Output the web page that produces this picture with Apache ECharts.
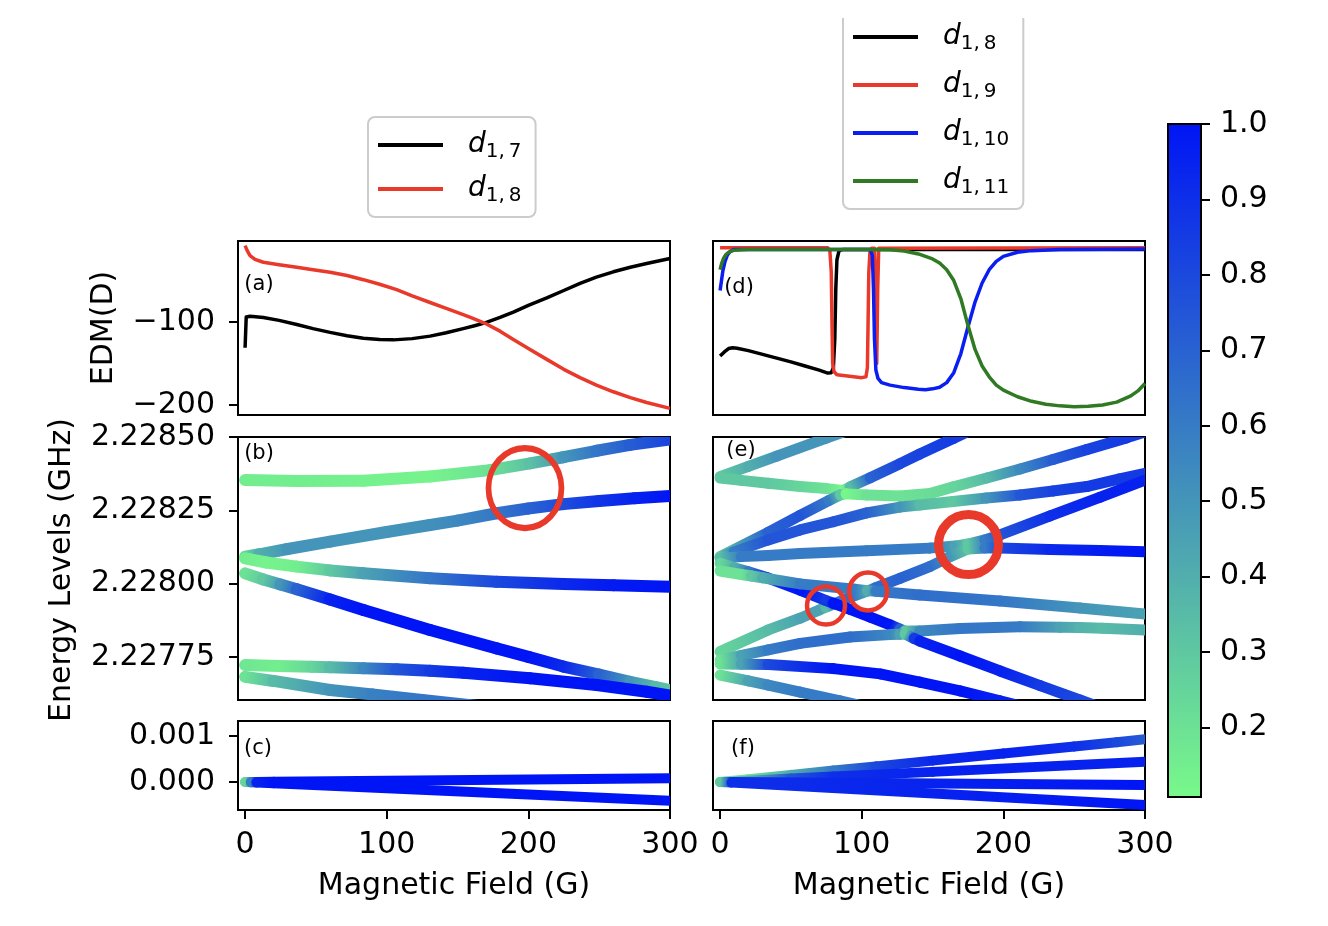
<!DOCTYPE html>
<html>
<head>
<meta charset="utf-8">
<script src="https://cdn.jsdelivr.net/npm/echarts@6/dist/echarts.min.js"></script>
<style>
  html, body { margin: 0; background: #fff; }
  #chart { width: 1328px; height: 926px; }
</style>
</head>
<body>
<div id="chart"></div>
<script>
// axis extents and tick values
const fieldRange = [-5, 300]
const edmRange = [-212, -2.4]
const levelRange = [2.227603, 2.2285]
const splitRange = [-0.000609, 0.001326]
const cbarRange = [0.108, 1.0]
const fieldTicks = [0, 100, 200, 300]
const edmTicks = [-200, -100]
const levelTicks = [2.22775, 2.228, 2.22825, 2.2285]
const splitTicks = [0, 0.001]
const cbarTicks = [0.2, 0.3, 0.4, 0.5, 0.6, 0.7, 0.8, 0.9, 1.0]

// (a) EDM (D) vs field (G)
const a_d17 = [[0, -131], [0.8, -94], [3.5, -93], [12.9, -94.5], [24, -98], [36.5, -103], [48, -108], [60, -112.5], [72, -116.5], [83.5, -119.5], [95, -121], [104.7, -121.5], [118, -120], [130.6, -117], [142, -113], [154, -108], [162, -104.5], [169.4, -101], [180, -94.5], [189.4, -88], [200, -80], [213, -71], [225, -62], [236.5, -53.5], [248, -46], [260, -39.5], [272, -34], [283.5, -29.5], [300, -23.5]]
const a_d18 = [[0, -8], [1.5, -14], [3.5, -20], [7, -24.5], [12.9, -28], [24, -31], [36.5, -34], [48, -37], [60, -40], [72, -44], [83.5, -49], [95, -54.5], [107, -61], [118, -68.5], [130.6, -76.5], [142, -83.5], [154, -91], [160, -95], [169.4, -101.5], [180, -111], [189.4, -121], [200, -132], [213, -145], [225, -157], [236.5, -167], [248, -176], [260, -184], [272, -191], [283.5, -197], [300, -204]]

// (d) EDM (D) vs field (G)
const d_d18 = [[0, -141], [3, -136], [6, -132], [9, -131], [12, -131.5], [20, -134.5], [30, -139], [40, -143.5], [50, -148], [60, -153], [70, -158], [76, -161.5], [78.5, -161], [80, -155], [81, -120], [81.7, -60], [82.5, -25], [84, -14], [87, -12.5], [300, -12.5]]
const d_d19 = [[0, -10.5], [76, -10.5], [77.5, -14], [78.5, -40], [79, -100], [79.5, -150], [80.5, -160], [82.5, -163.5], [90, -165], [100, -167], [103, -166], [104, -155], [104.5, -100], [105, -40], [105.8, -16], [107, -11], [109, -11], [110, -60], [110.6, -150], [111.3, -60], [112, -11], [300, -10.5]]
const d_d110 = [[0, -62], [1, -50], [2, -38], [3.5, -27], [5, -20], [7, -15], [10, -12.5], [106, -12.5], [107.5, -20], [108.3, -60], [109, -120], [110, -158], [111.5, -168], [114, -173], [120, -176], [130, -179], [140, -181], [145, -181.5], [150, -180.5], [155, -178.5], [160, -173], [165, -161], [170, -138], [175, -106], [180, -76], [185, -53], [190, -37], [195, -27], [200, -21], [210, -16], [220, -14], [240, -12.5], [300, -12]]
const d_d111 = [[0, -37], [1, -30], [2.5, -23], [4, -19], [6, -16], [10, -13.5], [20, -12.5], [100, -12.5], [120, -13], [130, -14.5], [140, -18], [150, -24], [155, -29], [160, -37], [165, -50], [170, -72], [175, -104], [180, -133], [185, -153], [190, -166], [195, -176], [200, -182], [210, -190], [220, -195.5], [230, -199], [240, -201], [250, -202], [260, -201.5], [270, -200], [280, -196.5], [290, -189], [295, -183], [300, -174]]

// (b) energy levels: [field G, energy GHz, colour value]
const b1 = [[0, 2.228353, 0.15], [36.5, 2.22835, 0.15], [83.5, 2.228351, 0.14], [130.6, 2.228365, 0.13], [172.9, 2.228387, 0.2], [201.2, 2.22841, 0.33], [224.7, 2.228431, 0.5], [248.2, 2.228453, 0.62], [271.8, 2.228473, 0.72], [300, 2.228492, 0.82]]
const b2 = [[0, 2.228092, 0.25], [10, 2.2281, 0.4], [30, 2.228118, 0.5], [60, 2.228143, 0.5], [100, 2.228176, 0.5], [130.6, 2.2282, 0.52], [150, 2.228215, 0.55], [177.6, 2.22824, 0.62], [200, 2.228256, 0.7], [224.7, 2.228271, 0.78], [250, 2.228282, 0.88], [275, 2.228291, 0.95], [300, 2.228299, 1.0]]
const b3 = [[0, 2.228086, 0.15], [15, 2.228072, 0.13], [36.5, 2.228058, 0.15], [60, 2.228045, 0.3], [83.5, 2.228035, 0.45], [130.6, 2.228018, 0.62], [177.6, 2.228006, 0.8], [224.7, 2.227999, 0.92], [260, 2.227994, 0.98], [300, 2.227989, 1.0]]
const b4 = [[0, 2.228035, 0.2], [12.9, 2.228014, 0.3], [25, 2.227997, 0.5], [36.5, 2.227981, 0.7], [60, 2.227946, 0.95], [83.5, 2.22791, 1.0], [130.6, 2.227842, 1.0], [177.6, 2.227779, 1.0], [200, 2.22775, 1.0], [224.7, 2.227717, 0.92], [250, 2.22769, 0.7], [271.8, 2.227665, 0.5], [290, 2.227647, 0.35], [300, 2.227637, 0.32]]
const b5 = [[0, 2.227722, 0.18], [23.5, 2.227719, 0.15], [47, 2.227716, 0.25], [60, 2.227715, 0.35], [83.5, 2.227711, 0.55], [107, 2.227708, 0.75], [130.6, 2.227703, 0.85], [154, 2.227696, 0.95], [201.2, 2.227677, 1.0], [248.2, 2.227654, 1.0], [283.5, 2.227631, 1.0], [300, 2.227618, 1.0]]
const b6 = [[0, 2.227682, 0.2], [20, 2.227668, 0.35], [60, 2.227637, 0.5], [90, 2.227622, 0.58], [125, 2.227603, 0.62], [200, 2.227564, 0.65]]

// (c) level splitting (GHz)
const c1 = [[0, 0, 0.25], [4, 0.000001, 0.6], [8, 0.000002, 0.95], [20, 0.000005, 1.0], [300, 0.00008, 1.0]]
const c2 = [[0, 0, 0.25], [4, -0.0000054, 0.6], [8, -0.0000108, 0.95], [20, -0.000027, 1.0], [300, -0.000406, 1.0]]

// (e) energy levels
const e1 = [[0, 2.228365, 0.3], [20, 2.2284, 0.4], [40, 2.228435, 0.5], [75, 2.228496, 0.5], [110, 2.228557, 0.5]]
const e2 = [[0, 2.22836, 0.3], [15, 2.228352, 0.3], [34, 2.228342, 0.3], [56.5, 2.228331, 0.25], [75, 2.228324, 0.2], [87, 2.228318, 0.12], [92, 2.22833, 0.35], [106, 2.228361, 0.7], [127, 2.228409, 0.8], [141, 2.228442, 0.82], [165, 2.228496, 0.85], [184, 2.228539, 0.85]]
const e3 = [[0, 2.228092, 0.3], [34, 2.228175, 0.7], [56.5, 2.228233, 0.75], [77, 2.228284, 0.6], [85, 2.228303, 0.3], [89, 2.228306, 0.12], [103.5, 2.228302, 0.2], [127, 2.228299, 0.2], [148, 2.228307, 0.22], [164.7, 2.22833, 0.25], [188.3, 2.22836, 0.35], [211.8, 2.228391, 0.55], [235, 2.228423, 0.72], [258.8, 2.228457, 0.82], [287, 2.228497, 0.85], [300, 2.228517, 0.85]]
const e4 = [[0, 2.228091, 0.3], [10, 2.228108, 0.6], [34, 2.228149, 0.75], [56.5, 2.228183, 0.75], [80, 2.228211, 0.75], [103.5, 2.228241, 0.7], [127, 2.228261, 0.5], [141, 2.228268, 0.35], [164.5, 2.22828, 0.3], [188, 2.228292, 0.5], [211.8, 2.228302, 0.75], [235, 2.228316, 0.82], [258.8, 2.228331, 0.85], [282, 2.228357, 0.85], [300, 2.228376, 0.85]]
const e5 = [[0, 2.228086, 0.35], [15, 2.228092, 0.6], [34, 2.228096, 0.6], [56.5, 2.228103, 0.6], [103.5, 2.228112, 0.6], [148, 2.228121, 0.6], [166, 2.228128, 0.45], [175, 2.228135, 0.3], [187, 2.228149, 0.6], [197.6, 2.228166, 0.75], [233, 2.228231, 0.9], [268, 2.228294, 0.95], [300, 2.228353, 0.95]]
const e6 = [[0, 2.227768, 0.25], [34, 2.227842, 0.35], [56.5, 2.227882, 0.45], [70, 2.22791, 0.45], [74.8, 2.22792, 0.35], [80, 2.22793, 0.6], [91.8, 2.227953, 0.65], [104.5, 2.227975, 0.4], [110, 2.227986, 0.65], [127, 2.228018, 0.7], [148, 2.228058, 0.65], [162, 2.228091, 0.5], [175, 2.228118, 0.3], [187, 2.228121, 0.6], [197.6, 2.228121, 0.8], [233, 2.228116, 0.92], [268, 2.228113, 0.97], [300, 2.228109, 1.0]]
const e7 = [[0, 2.228069, 0.25], [10, 2.228054, 0.4], [20, 2.22804, 0.6], [34, 2.228019, 0.9], [56.5, 2.227978, 1.0], [74.8, 2.227942, 0.85], [80, 2.227933, 1.0], [91.8, 2.227912, 1.0], [106, 2.227886, 1.0], [120, 2.227859, 1.0], [127, 2.227845, 0.7], [130.6, 2.227838, 0.3], [141, 2.227838, 0.55], [169.4, 2.227847, 0.62], [211.8, 2.227853, 0.6], [240, 2.227851, 0.45], [254, 2.22785, 0.38], [270, 2.227848, 0.35], [300, 2.227842, 0.4]]
const e8 = [[0, 2.227739, 0.2], [15, 2.227755, 0.45], [34, 2.227774, 0.6], [56.5, 2.227796, 0.65], [91.8, 2.227818, 0.65], [120, 2.227826, 0.55], [127, 2.227827, 0.45], [130.6, 2.227828, 0.3], [137, 2.227813, 0.85], [141, 2.227804, 0.95], [169.4, 2.227753, 1.0], [197.6, 2.227702, 0.95], [226, 2.227652, 0.85], [254, 2.227603, 0.8], [282, 2.227555, 0.8]]
const e9 = [[0, 2.228043, 0.2], [15, 2.228031, 0.2], [22, 2.228026, 0.3], [30, 2.22802, 0.4], [56.5, 2.227999, 0.6], [95, 2.227981, 0.6], [104, 2.227976, 0.4], [110, 2.227974, 0.6], [141, 2.227961, 0.65], [197.6, 2.227941, 0.62], [254, 2.227917, 0.5], [300, 2.227896, 0.45]]
const e10 = [[0, 2.227726, 0.2], [15, 2.227725, 0.45], [34, 2.227724, 0.8], [80, 2.22771, 1.0], [113, 2.227692, 1.0], [141, 2.227664, 1.0], [169.4, 2.227634, 1.0], [197.6, 2.2276, 0.95], [226, 2.227566, 0.95]]
const e11 = [[0, 2.227688, 0.2], [20, 2.227668, 0.45], [34, 2.227654, 0.55], [56.5, 2.22763, 0.6], [84.7, 2.2276, 0.6], [113, 2.227569, 0.6]]

// (f) level splitting (GHz)
const f1 = [[0, 0, 0.12], [20, 0.000062, 0.2], [50, 0.000155, 0.4], [80, 0.000248, 0.6], [110, 0.00034, 0.8], [150, 0.000464, 0.92], [200, 0.000619, 0.95], [250, 0.000773, 0.9], [280, 0.000866, 0.8], [300, 0.000928, 0.72]]
const f2 = [[0, 0, 0.15], [20, 0.0000294, 0.4], [50, 0.0000735, 0.75], [80, 0.000118, 0.9], [150, 0.00022, 0.95], [300, 0.000441, 0.95]]
const f3 = [[0, 0, 0.3], [8, -0.0000017, 0.9], [300, -0.000065, 1.0]]
const f4 = [[0, 0, 0.3], [8, -0.0000133, 0.9], [300, -0.0005, 1.0]]

// highlighted crossings (field G, energy GHz)
const bRing = [[197.6, 2.228326]]
const eRingBig = [[175.4, 2.228133]]
const eRingSmall = [[74.8, 2.227925], [104.5, 2.227973]]

const font = 'DejaVu Sans'
const red = '#e8392a'
const legendSub = { a17: '1,\u20097', a18: '1,\u20098', d18: '1,\u20098', d19: '1,\u20099', d110: '1,\u200910', d111: '1,\u200911' }

// green -> blue colour map of the colour bar
const cmapLow = [121, 249, 138]
const cmapHigh = [0, 21, 245]
function cmap(v) {
  const t = Math.max(0, Math.min(1, (v - cbarRange[0]) / (cbarRange[1] - cbarRange[0])))
  const c = cmapLow.map((lo, i) => Math.round(lo + (cmapHigh[i] - lo) * t))
  return 'rgb(' + c.join(',') + ')'
}

function segments(pts) {
  const out = []
  for (let i = 1; i < pts.length; i++) {
    const a = pts[i - 1]
    const b = pts[i]
    out.push([a[0], a[1], b[0], b[1], a[2], b[2]])
  }
  return out
}

function levelSeries(pts, grid, width) {
  return {
    type: 'custom', xAxisIndex: grid, yAxisIndex: grid, clip: true, silent: true,
    encode: { x: [0, 2], y: [1, 3] },
    data: segments(pts),
    renderItem: (params, api) => {
      const p0 = api.coord([api.value(0), api.value(1)])
      const p1 = api.coord([api.value(2), api.value(3)])
      return {
        type: 'line',
        shape: { x1: p0[0], y1: p0[1], x2: p1[0], y2: p1[1] },
        style: {
          stroke: new echarts.graphic.LinearGradient(p0[0], p0[1], p1[0], p1[1], [
            { offset: 0, color: cmap(api.value(4)) },
            { offset: 1, color: cmap(api.value(5)) }
          ], true),
          lineWidth: width,
          lineCap: 'round'
        }
      }
    }
  }
}

function edmSeries(name, pts, grid, color) {
  return {
    type: 'line', name, xAxisIndex: grid, yAxisIndex: grid, data: pts,
    symbol: 'none', silent: true,
    lineStyle: { color, width: 3.5, join: 'round' },
    itemStyle: { color }
  }
}

function ringSeries(pts, grid, size, border) {
  return {
    type: 'scatter', xAxisIndex: grid, yAxisIndex: grid, data: pts, silent: true,
    symbol: 'circle', symbolSize: size,
    itemStyle: { color: 'rgba(0,0,0,0)', borderColor: red, borderWidth: border, opacity: 1 }
  }
}

const axisText = { color: '#000', fontSize: 30, fontFamily: font }
const tickLine = { color: '#000', width: 2 }

function fieldAxis(grid, labelled) {
  return {
    type: 'value', gridIndex: grid, min: fieldRange[0], max: fieldRange[1], show: labelled,
    position: 'bottom',
    splitLine: { show: false }, axisLine: { show: false, onZero: false },
    axisTick: { show: labelled, inside: false, customValues: fieldTicks, length: 9, lineStyle: tickLine },
    axisLabel: { show: labelled, customValues: fieldTicks, margin: 20, ...axisText }
  }
}

function valueAxis(grid, range, ticks, fmt, labelled) {
  return {
    type: 'value', gridIndex: grid, min: range[0], max: range[1], show: labelled,
    position: 'left',
    splitLine: { show: false }, axisLine: { show: false, onZero: false },
    axisTick: { show: labelled, inside: false, customValues: ticks, length: 9, lineStyle: tickLine },
    axisLabel: { show: labelled, customValues: ticks, margin: 23, formatter: fmt, ...axisText }
  }
}

const edmFmt = v => (v < 0 ? '\u2212' : '') + Math.abs(v)
const levelFmt = v => v.toFixed(5)
const splitFmt = v => v.toFixed(3)

const panel = { show: true, borderColor: '#000', borderWidth: 2, outerBoundsMode: 'none' }
const grids = [
  { left: 238, top: 241, width: 432, height: 174 },
  { left: 238, top: 437, width: 432, height: 263 },
  { left: 238, top: 721, width: 432, height: 89 },
  { left: 713, top: 241, width: 432, height: 174 },
  { left: 713, top: 437, width: 432, height: 263 },
  { left: 713, top: 721, width: 432, height: 89 },
  { left: 1168, top: 124, width: 33, height: 673 }
].map(g => ({ ...g, ...panel }))

function legendBox(names, left, top, gap, padTop) {
  return {
    data: names, left, top, orient: 'vertical', selectedMode: false,
    icon: 'rect', itemWidth: 65, itemHeight: 4, itemGap: gap,
    padding: [padTop, 14, 11, 10],
    backgroundColor: '#fff', borderColor: '#cccccc', borderWidth: 2, borderRadius: 7,
    formatter: name => '{sp| }{i|d}{s|' + legendSub[name] + '}',
    textStyle: {
      rich: {
        sp: { width: 20 },
        i: { fontFamily: font, fontStyle: 'italic', fontSize: 28, lineHeight: 34, verticalAlign: 'middle', color: '#000' },
        s: { fontFamily: font, fontSize: 20, lineHeight: 20, verticalAlign: 'bottom', color: '#000' }
      }
    }
  }
}

function label(text, x, y, size, rotation) {
  return {
    type: 'text', x, y, rotation, silent: true,
    style: {
      text, font: size + 'px "' + font + '"', fill: '#000',
      align: 'center', verticalAlign: 'middle', textAlign: 'center', textVerticalAlign: 'middle'
    }
  }
}

const chart = echarts.init(document.getElementById('chart'))
chart.setOption({
  animation: false,
  backgroundColor: '#fff',
  grid: grids,
  xAxis: [
    fieldAxis(0, false), fieldAxis(1, false), fieldAxis(2, true),
    fieldAxis(3, false), fieldAxis(4, false), fieldAxis(5, true),
    { type: 'value', gridIndex: 6, min: 0, max: 1, show: false }
  ],
  yAxis: [
    valueAxis(0, edmRange, edmTicks, edmFmt, true),
    valueAxis(1, levelRange, levelTicks, levelFmt, true),
    valueAxis(2, splitRange, splitTicks, splitFmt, true),
    valueAxis(3, edmRange, edmTicks, edmFmt, false),
    valueAxis(4, levelRange, levelTicks, levelFmt, false),
    valueAxis(5, splitRange, splitTicks, splitFmt, false),
    {
      type: 'value', gridIndex: 6, min: cbarRange[0], max: cbarRange[1], position: 'right',
      splitLine: { show: false }, axisLine: { show: false, onZero: false },
      axisTick: { inside: false, customValues: cbarTicks, length: 9, lineStyle: tickLine },
      axisLabel: { customValues: cbarTicks, margin: 19, formatter: v => v.toFixed(1), ...axisText }
    }
  ],
  legend: [
    legendBox(['a17', 'a18'], 368, 117, 13, 14),
    legendBox(['d18', 'd19', 'd110', 'd111'], 843, 10, 17, 13)
  ],
  series: [
    edmSeries('a17', a_d17, 0, '#000000'),
    edmSeries('a18', a_d18, 0, red),
    edmSeries('d18', d_d18, 3, '#000000'),
    edmSeries('d19', d_d19, 3, red),
    edmSeries('d110', d_d110, 3, '#0a1ef2'),
    edmSeries('d111', d_d111, 3, '#307a24'),
    ...[b1, b2, b3, b4, b5, b6].map(p => levelSeries(p, 1, 12)),
    ...[c1, c2].map(p => levelSeries(p, 2, 10)),
    ...[e1, e2, e3, e4, e5, e6, e7, e8, e9, e10, e11].map(p => levelSeries(p, 4, 11)),
    ...[f1, f2, f3, f4].map(p => levelSeries(p, 5, 10)),
    ringSeries(bRing, 1, [73, 80], 6),
    ringSeries(eRingBig, 4, 60, 9),
    ringSeries(eRingSmall, 4, 38, 4.5),
    {
      type: 'custom', xAxisIndex: 6, yAxisIndex: 6, silent: true,
      data: [[0, cbarRange[0], 1, cbarRange[1]]],
      renderItem: (params, api) => {
        const p0 = api.coord([api.value(0), api.value(3)])
        const p1 = api.coord([api.value(2), api.value(1)])
        return {
          type: 'rect',
          shape: { x: p0[0], y: p0[1], width: p1[0] - p0[0], height: p1[1] - p0[1] },
          style: {
            fill: new echarts.graphic.LinearGradient(0, 1, 0, 0, [
              { offset: 0, color: cmap(cbarRange[0]) },
              { offset: 1, color: cmap(cbarRange[1]) }
            ]),
            stroke: '#000', lineWidth: 2
          }
        }
      }
    }
  ],
  graphic: [
    label('EDM(D)', 104, 328, 30, Math.PI / 2),
    label('Energy Levels (GHz)', 62, 570, 30, Math.PI / 2),
    label('Magnetic Field (G)', 454, 886, 30, 0),
    label('Magnetic Field (G)', 929, 886, 30, 0),
    label('(a)', 259, 285, 21, 0),
    label('(b)', 259, 454, 21, 0),
    label('(c)', 258, 749, 21, 0),
    label('(d)', 739, 288, 21, 0),
    label('(e)', 741, 451, 21, 0),
    label('(f)', 743, 749, 21, 0),
    { type: 'rect', z: 100, silent: true, shape: { x: 830, y: 0, width: 210, height: 18 }, style: { fill: '#fff' } }
  ]
})
</script>
</body>
</html>
